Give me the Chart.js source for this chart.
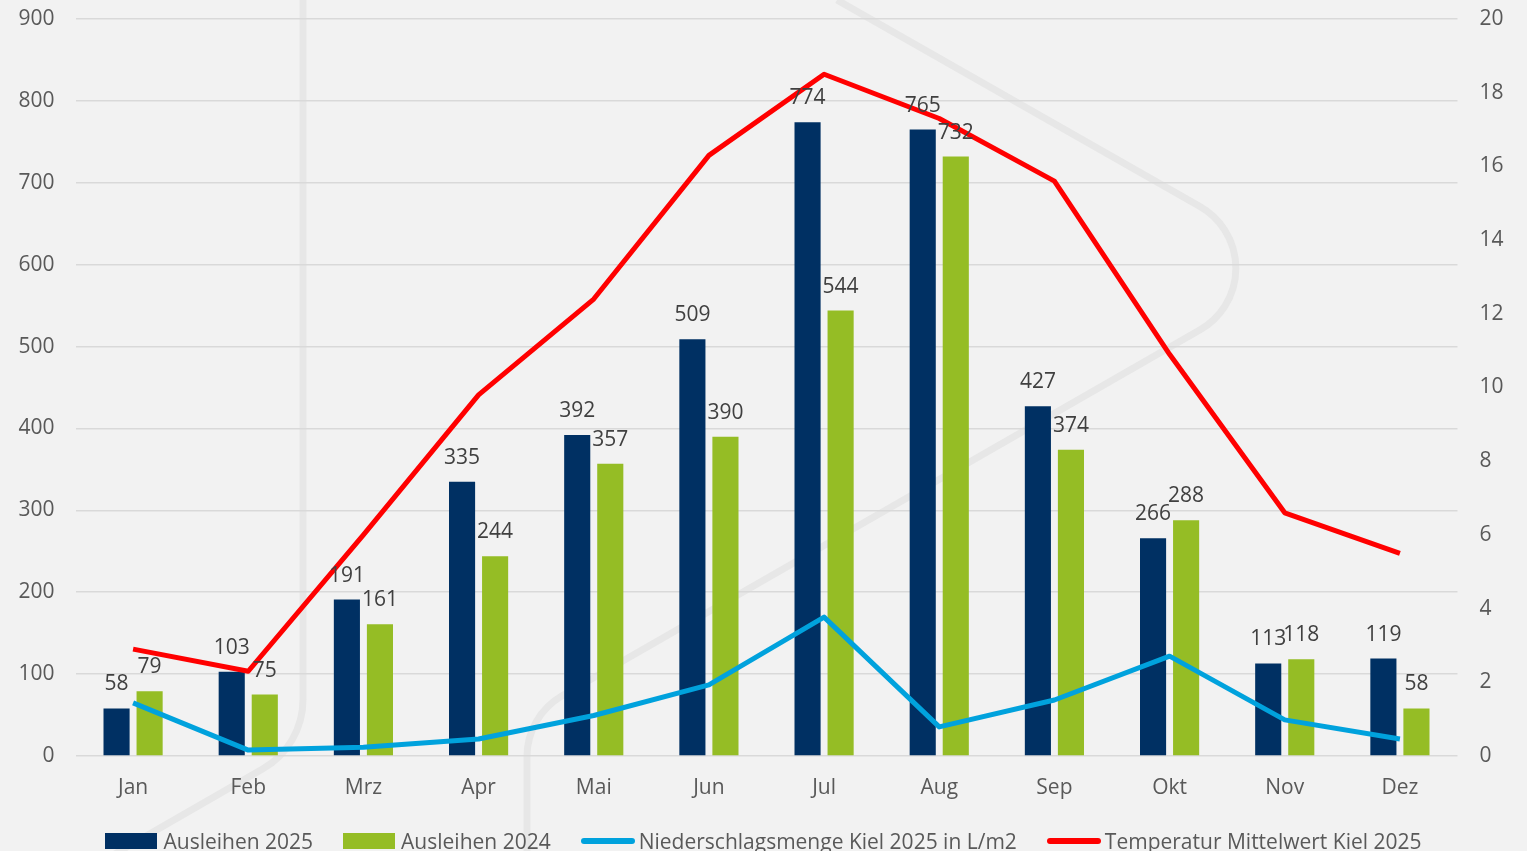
<!DOCTYPE html>
<html>
<head>
<meta charset="utf-8">
<script src="https://cdn.jsdelivr.net/npm/chart.js@4"></script>
<style>
  html, body { margin: 0; padding: 0; background: #f2f2f2; overflow: hidden; }
  #wrap { position: relative; width: 1527px; height: 851px; }
  #legend {
    position: absolute; left: 0; top: 827px; width: 1527px;
    display: flex; justify-content: center; align-items: center;
    font: 21px "Open Sans", sans-serif; color: #595959; white-space: nowrap;
  }
  .item { display: flex; align-items: center; margin: 0 15px; }
  .box { width: 52px; height: 16px; margin-right: 6px; }
  .line { width: 54px; height: 6px; border-radius: 3px; margin-right: 4px; }
</style>
</head>
<body>
<div id="wrap">
  <canvas id="chart" width="1527" height="851"></canvas>
  <div id="legend"></div>
</div>
<script>
const months = ["Jan", "Feb", "Mrz", "Apr", "Mai", "Jun", "Jul", "Aug", "Sep", "Okt", "Nov", "Dez"];
const loans2025 = [58, 103, 191, 335, 392, 509, 774, 765, 427, 266, 113, 119];
const loans2024 = [79, 75, 161, 244, 357, 390, 544, 732, 374, 288, 118, 58];
const rainKiel = [1.44, 0.16, 0.24, 0.46, 1.1, 1.93, 3.77, 0.79, 1.52, 2.71, 0.98, 0.46];
const tempKiel = [2.9, 2.3, 6.0, 9.8, 12.4, 16.3, 18.5, 17.3, 15.6, 10.9, 6.6, 5.5];

const labelsFont = '21px "Open Sans", sans-serif';

// faint logo shapes in the background
const watermark = {
  id: "watermark",
  beforeDraw(chart) {
    const ctx = chart.ctx;
    ctx.save();
    ctx.fillStyle = "#f2f2f2";
    ctx.fillRect(0, 0, chart.width, chart.height);
    ctx.strokeStyle = "#e7e7e7";
    ctx.lineWidth = 7;
    ctx.beginPath();
    ctx.moveTo(303, -10);
    ctx.arcTo(303, 746, 150, 833, 80);
    ctx.lineTo(0, 920);
    ctx.stroke();
    ctx.beginPath();
    ctx.moveTo(837, 0);
    ctx.arcTo(1308, 268, 933, 483, 71);
    ctx.arcTo(527, 716, 527, 851, 70);
    ctx.lineTo(527, 860);
    ctx.stroke();
    ctx.restore();
  }
};

const barLabels = {
  id: "barLabels",
  afterDatasetsDraw(chart) {
    const ctx = chart.ctx;
    ctx.save();
    ctx.font = labelsFont;
    ctx.fillStyle = "#404040";
    ctx.textAlign = "center";
    ctx.textBaseline = "middle";
    chart.data.datasets.forEach((ds, i) => {
      if (ds.type !== "bar") return;
      chart.getDatasetMeta(i).data.forEach((bar, j) => {
        ctx.fillText(ds.data[j], bar.x, bar.y - 24);
      });
    });
    ctx.restore();
  }
};

const datasets = [
  { type: "bar", label: "Ausleihen 2025", data: loans2025, backgroundColor: "#003063", yAxisID: "y", order: 2 },
  { type: "bar", label: "Ausleihen 2024", data: loans2024, backgroundColor: "#95bd25", yAxisID: "y", order: 2 },
  { type: "line", label: "Niederschlagsmenge Kiel 2025 in L/m2", data: rainKiel, borderColor: "#00a2dd", borderWidth: 5, pointRadius: 0, tension: 0, borderJoinStyle: "round", yAxisID: "y1", order: 1 },
  { type: "line", label: "Temperatur Mittelwert Kiel 2025", data: tempKiel, borderColor: "#ff0000", borderWidth: 5, pointRadius: 0, tension: 0, borderJoinStyle: "round", yAxisID: "y1", order: 0 }
];

const fitY = (w) => (s) => {
  s.width = w;
  s.paddingTop = 0;
  s.paddingBottom = 0;
};

new Chart(document.getElementById("chart"), {
  data: { labels: months, datasets: datasets },
  plugins: [watermark, barLabels],
  options: {
    responsive: false,
    animation: false,
    layout: { padding: { top: 19, bottom: 0 } },
    datasets: { bar: { categoryPercentage: 0.574, barPercentage: 0.79 } },
    plugins: { legend: { display: false }, tooltip: { enabled: false } },
    scales: {
      x: {
        grid: { display: false, drawTicks: false },
        border: { display: false },
        ticks: { color: "#595959", font: { family: "Open Sans", size: 21 }, padding: 19 },
        afterFit: (s) => { s.height = 95; }
      },
      y: {
        position: "left",
        min: 0, max: 900,
        ticks: { stepSize: 100, color: "#595959", font: { family: "Open Sans", size: 21 }, padding: 21 },
        grid: { color: "#d9d9d9", lineWidth: 1.5, drawTicks: false },
        border: { display: false },
        afterFit: fitY(75.5)
      },
      y1: {
        position: "right",
        min: 0, max: 20,
        ticks: { stepSize: 2, color: "#595959", font: { family: "Open Sans", size: 21 }, padding: 22 },
        grid: { display: false, drawTicks: false },
        border: { display: false },
        afterFit: fitY(69.5)
      }
    }
  }
});

const legendEl = document.getElementById("legend");
legendEl.innerHTML = datasets.map((d) => {
  const mark = d.type === "bar"
    ? `<span class="box" style="background:${d.backgroundColor}"></span>`
    : `<span class="line" style="background:${d.borderColor}"></span>`;
  return `<span class="item">${mark}<span>${d.label}</span></span>`;
}).join("");
</script>
</body>
</html>
